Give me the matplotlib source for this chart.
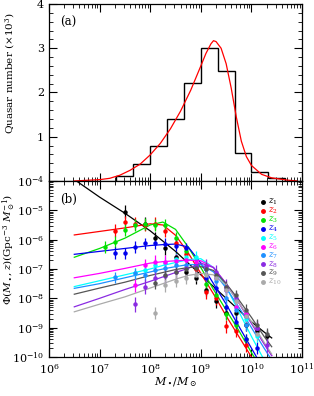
import numpy as np
import matplotlib
matplotlib.use("Agg")
import matplotlib.pyplot as plt
from matplotlib.ticker import LogLocator, MultipleLocator, NullFormatter

plt.rcParams["font.family"] = ["DejaVu Serif"]
plt.rcParams["mathtext.fontset"] = "dejavuserif"

# ---- panel (a): histogram of quasar masses (x10^3) ----
hist_edges_log = [7.333, 7.667, 8.0, 8.333, 8.667, 9.0, 9.333, 9.667, 10.0, 10.333, 10.667]
hist_counts = [0.11, 0.38, 0.80, 1.40, 2.21, 3.01, 2.49, 0.63, 0.20, 0.06]

fit_logm = [6.5, 7.0, 7.2, 7.4, 7.6, 7.8, 8.0, 8.2, 8.4, 8.6, 8.8, 9.0, 9.1, 9.2, 9.25,
            9.3, 9.4, 9.5, 9.6, 9.7, 9.8, 9.9, 10.0, 10.2, 10.4, 10.7, 10.9]
fit_counts = [0.0, 0.03, 0.06, 0.13, 0.24, 0.38, 0.59, 0.85, 1.18, 1.58, 2.05, 2.6, 2.88, 3.1, 3.17,
              3.15, 3.0, 2.65, 2.1, 1.45, 0.9, 0.55, 0.35, 0.15, 0.07, 0.02, 0.0]

# ---- panel (b): mass function per redshift bin ----
labels = [r"$z_{1}$", r"$z_{2}$", r"$z_{3}$", r"$z_{4}$", r"$z_{5}$",
          r"$z_{6}$", r"$z_{7}$", r"$z_{8}$", r"$z_{9}$", r"$z_{10}$"]
colors = ["black", "red", "#00e000", "#0000ee", "cyan", "magenta",
          "#1e90ff", "#8a2be2", "#555555", "#aaaaaa"]

curve_logm = [6.5, 7.0, 7.5, 8.0, 8.25, 8.5, 8.75, 9.0, 9.25, 9.5, 9.75, 10.0, 10.25, 10.4]
curve_z1 = [-3.95, -4.55, -5.1, -5.7, -6.05, -6.4, -6.8, -7.2, -7.6, -8.0, -8.4, -8.8, -9.15, -9.35]
curve_z2 = [-5.84, -5.72, -5.6, -5.46, -5.5, -5.85, -6.45, -7.15, -7.85, -8.6, -9.3, -10.0, -10.7, -11.1]
curve_z3 = [-6.6, -6.3, -5.95, -5.5, -5.4, -5.65, -6.25, -6.95, -7.7, -8.4, -9.1, -9.85, -10.55, -11.0]
curve_z4 = [-6.5, -6.4, -6.3, -6.2, -6.17, -6.15, -6.25, -6.8, -7.5, -8.2, -8.95, -9.7, -10.45, -10.9]
curve_z5 = [-7.6, -7.4, -7.2, -7.0, -6.88, -6.78, -6.68, -6.65, -6.95, -7.6, -8.45, -9.3, -10.1, -10.5]
curve_z6 = [-7.3, -7.15, -6.98, -6.8, -6.75, -6.72, -6.7, -6.72, -6.95, -7.5, -8.15, -8.85, -9.55, -9.95]
curve_z7 = [-7.66, -7.5, -7.3, -7.1, -7.0, -6.92, -6.85, -6.85, -7.1, -7.65, -8.3, -9.0, -9.7, -10.1]
curve_z8 = [-8.29, -8.0, -7.7, -7.42, -7.27, -7.12, -6.98, -6.8, -6.95, -7.5, -8.15, -8.85, -9.55, -9.95]
curve_z9 = [-7.86, -7.65, -7.45, -7.22, -7.12, -7.02, -6.95, -6.92, -7.05, -7.5, -8.05, -8.65, -9.3, -9.65]
curve_z10 = [-8.46, -8.2, -7.95, -7.65, -7.5, -7.35, -7.22, -7.15, -7.2, -7.55, -8.15, -8.8, -9.5, -9.9]
curves = [curve_z1, curve_z2, curve_z3, curve_z4, curve_z5,
          curve_z6, curve_z7, curve_z8, curve_z9, curve_z10]

pts_logm_z1 = [7.5, 7.9, 8.1, 8.3, 8.5, 8.7, 8.9, 9.1, 9.3, 9.5, 9.7, 9.9, 10.1, 10.3]
pts_z1 = [-5.05, -5.45, -5.95, -6.3, -6.6, -7.1, -7.3, -7.7, -8.1, -8.5, -8.5, -8.9, -9.1, -9.3]
pts_logm_z2 = [7.3, 7.5, 7.7, 7.9, 8.1, 8.3, 8.5, 8.7, 8.9, 9.1, 9.3, 9.5, 9.7, 9.9]
pts_z2 = [-5.7, -5.4, -5.45, -5.5, -5.45, -5.7, -6.1, -6.5, -7.0, -7.8, -8.0, -8.95, -9.1, -9.6]
pts_logm_z3 = [7.1, 7.3, 7.5, 7.7, 7.9, 8.1, 8.3, 8.5, 8.7, 8.9, 9.1, 9.3, 9.5, 9.7, 9.9]
pts_z3 = [-6.25, -6.07, -5.67, -5.5, -5.47, -5.5, -5.5, -5.95, -6.4, -6.9, -7.5, -7.9, -8.55, -8.9, -9.4]
pts_logm_z4 = [7.3, 7.5, 7.7, 7.9, 8.1, 8.3, 8.5, 8.7, 8.9, 9.1, 9.3, 9.5, 9.7, 9.9, 10.1]
pts_z4 = [-6.45, -6.47, -6.25, -6.13, -6.13, -6.15, -6.2, -6.3, -6.9, -7.3, -7.65, -8.3, -8.8, -9.4, -9.7]
pts_logm_z5 = [7.7, 7.9, 8.1, 8.3, 8.5, 8.7, 8.9, 9.1, 9.3, 9.5, 9.7, 9.9, 10.1]
pts_z5 = [-7.15, -7.04, -6.85, -6.8, -6.65, -6.6, -6.6, -6.95, -7.3, -7.7, -8.3, -8.7, -9.3]
pts_logm_z6 = [7.7, 7.9, 8.1, 8.3, 8.5, 8.7, 8.9, 9.1, 9.3, 9.5, 9.7, 9.9, 10.1]
pts_z6 = [-7.55, -6.88, -6.75, -6.75, -6.72, -6.7, -6.75, -6.9, -7.3, -7.7, -8.3, -8.55, -9.0]
pts_logm_z7 = [7.3, 7.7, 7.9, 8.1, 8.3, 8.5, 8.7, 8.9, 9.1, 9.3, 9.5, 9.7, 9.9]
pts_z7 = [-7.29, -7.15, -7.2, -7.05, -6.95, -6.85, -6.85, -6.9, -7.0, -7.4, -8.0, -8.4, -8.9]
pts_logm_z8 = [7.7, 7.9, 8.1, 8.3, 8.5, 8.7, 8.9, 9.1, 9.3, 9.5, 9.7, 9.9, 10.1, 10.3]
pts_z8 = [-8.2, -7.6, -7.3, -7.25, -7.1, -6.95, -6.9, -6.9, -7.1, -7.6, -8.0, -8.6, -9.0, -9.6]
pts_logm_z9 = [8.1, 8.3, 8.5, 8.7, 8.9, 9.1, 9.3, 9.5, 9.7, 9.9, 10.1, 10.3]
pts_z9 = [-7.49, -7.2, -7.1, -7.0, -6.95, -7.0, -7.2, -7.6, -7.9, -8.4, -8.9, -9.2]
pts_logm_z10 = [8.1, 8.3, 8.5, 8.7, 8.9, 9.1, 9.3, 9.5, 9.7, 9.9, 10.1]
pts_z10 = [-8.5, -7.55, -7.4, -7.3, -7.2, -7.2, -7.3, -7.7, -8.1, -8.6, -9.2]
pts_logm = [pts_logm_z1, pts_logm_z2, pts_logm_z3, pts_logm_z4, pts_logm_z5,
            pts_logm_z6, pts_logm_z7, pts_logm_z8, pts_logm_z9, pts_logm_z10]
pts = [pts_z1, pts_z2, pts_z3, pts_z4, pts_z5, pts_z6, pts_z7, pts_z8, pts_z9, pts_z10]
pts_err_dex = [0.22, 0.22, 0.2, 0.2, 0.2, 0.22, 0.2, 0.25, 0.2, 0.22]

fig = plt.figure(figsize=(3.14, 3.96), dpi=100)
ax1 = fig.add_axes([0.156, 0.543, 0.806, 0.447])
ax2 = fig.add_axes([0.156, 0.0985, 0.806, 0.4445], sharex=ax1)

def style(ax):
    ax.tick_params(which="both", direction="in", top=True, right=True, labelsize=8)
    ax.tick_params(which="major", length=6, width=0.8)
    ax.tick_params(which="minor", length=3, width=0.6)
    for s in ax.spines.values():
        s.set_linewidth(0.9)

# panel (a)
edges = 10 ** np.array(hist_edges_log)
ax1.stairs(hist_counts, edges, color="black", lw=1.0)
ax1.plot(10 ** np.array(fit_logm), fit_counts, color="red", lw=0.9)
ax1.set_xscale("log")
ax1.set_xlim(1e6, 1e11)
ax1.set_ylim(0, 4)
ax1.set_yticks([1, 2, 3, 4])
ax1.yaxis.set_minor_locator(MultipleLocator(0.2))
ax1.tick_params(labelbottom=False)
ax1.set_ylabel(r"Quasar number ($\times 10^3$)", fontsize=7.5, va="center")
ax1.yaxis.set_label_coords(-0.155, 0.61)
ax1.text(0.045, 0.93, "(a)", transform=ax1.transAxes, fontsize=8.5, va="top")
style(ax1)

# panel (b)
for i in range(10):
    cx = 10 ** np.array(curve_logm)
    ax2.plot(cx, 10 ** np.array(curves[i]), color=colors[i], lw=0.9, zorder=2)
    px = 10 ** np.array(pts_logm[i])
    py = np.array(pts[i])
    err = pts_err_dex[i]
    lo = 10 ** py - 10 ** (py - err)
    hi = 10 ** (py + err) - 10 ** py
    ax2.errorbar(px, 10 ** py, yerr=[lo, hi], fmt="o", color=colors[i], ms=2.2,
                 elinewidth=0.9, capsize=0, zorder=3)
    # hand-made legend entry
    ly = 0.88 - 0.0505 * i
    ax2.plot([0.846], [ly], "o", ms=2.5, color=colors[i], transform=ax2.transAxes)
    ax2.text(0.866, ly, labels[i], color=colors[i], fontsize=6.2, va="center",
             transform=ax2.transAxes)

ax2.set_yscale("log")
ax2.set_xscale("log")
ax2.set_xlim(1e6, 1e11)
ax2.set_ylim(1e-10, 1e-4)
ax2.yaxis.set_major_locator(LogLocator(base=10, numticks=10))
ax2.yaxis.set_minor_locator(LogLocator(base=10, subs=np.arange(2, 10), numticks=20))
ax2.yaxis.set_minor_formatter(NullFormatter())
ax2.xaxis.set_major_locator(LogLocator(base=10, numticks=10))
ax2.xaxis.set_minor_locator(LogLocator(base=10, subs=np.arange(2, 10), numticks=20))
ax2.xaxis.set_minor_formatter(NullFormatter())
ax2.set_xlabel(r"$M_\bullet/M_\odot$", fontsize=8)
ax2.xaxis.set_label_coords(0.5, -0.145)
ax2.xaxis.label.set_va("center")
ax2.set_ylabel(r"$\Phi(M_\bullet,z)$(Gpc$^{-3}$ $M_\odot^{-1}$)", fontsize=7.5, va="center")
ax2.yaxis.set_label_coords(-0.155, 0.61)
ax2.text(0.045, 0.93, "(b)", transform=ax2.transAxes, fontsize=8.5, va="top")
style(ax2)

fig.savefig("out.png", dpi=100)
